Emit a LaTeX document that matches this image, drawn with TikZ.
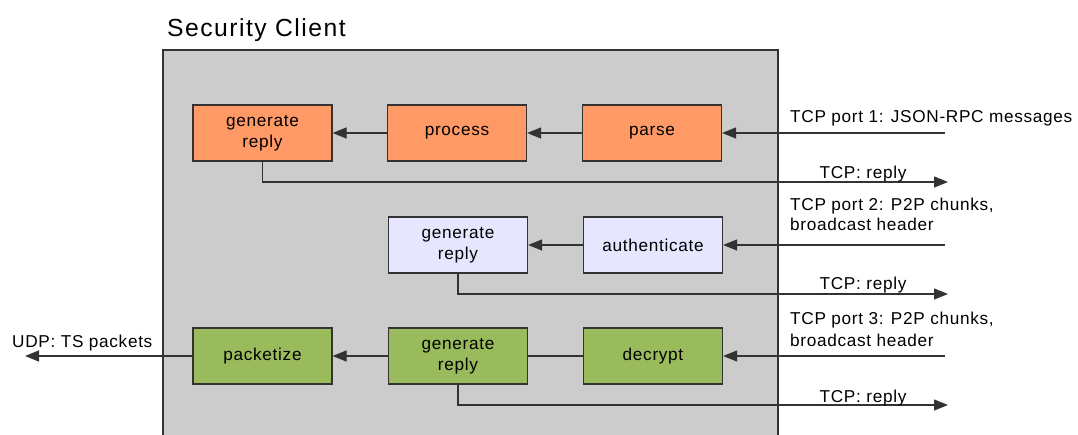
\documentclass[tikz,border=0pt]{standalone}
\usepackage{fontspec}
\setmainfont{Liberation Sans}[LetterSpace=4]
\newfontfamily\titlefont{Liberation Sans}[LetterSpace=6]
\usetikzlibrary{arrows.meta}
\definecolor{panel}{HTML}{CCCCCC}
\definecolor{edge}{HTML}{333333}
\definecolor{orangefill}{HTML}{FF9966}
\definecolor{lavfill}{HTML}{E6E6FF}
\definecolor{greenfill}{HTML}{99BB5C}
\tikzset{
  stage/.style={draw=edge, line width=1.2pt, minimum width=139pt, minimum height=56pt,
    align=center, font=\fontsize{17.2}{21}\selectfont, inner sep=2pt},
  flow/.style={draw=edge, line width=1.2pt, -{Triangle[length=14pt,width=11pt]}},
  plain/.style={draw=edge, line width=1.2pt},
  lbl/.style={font=\fontsize{17.2}{20}\selectfont, inner sep=0pt, align=left},
}
\begin{document}
\begin{tikzpicture}[x=1pt,y=-1pt]
\useasboundingbox (0,0) rectangle (1078,435);

% client container, open at the bottom
\fill[panel] (163,50) rectangle (778,435);
\draw[plain] (163,435) -- (163,50) -- (778,50) -- (778,435);
\node[anchor=base west, inner sep=0pt, font=\titlefont\fontsize{24.7}{28}\selectfont] (title) at (167,37) {Security Client};

% processing stages
\node[stage, fill=orangefill] (gr1) at (262.5,133) {generate\\reply};
\node[stage, fill=orangefill] (proc) at (457,133) {process};
\node[stage, fill=orangefill] (parse) at (652,133) {parse};

\node[stage, fill=lavfill] (gr2) at (458,245) {generate\\reply};
\node[stage, fill=lavfill] (auth) at (653,245) {authenticate};

\node[stage, fill=greenfill] (pack) at (262.5,356) {packetize};
\node[stage, fill=greenfill] (gr3) at (458,356) {generate\\reply};
\node[stage, fill=greenfill] (decr) at (653,356) {decrypt};

% external endpoints
\coordinate (in1) at (945,133);
\coordinate (in2) at (945,245);
\coordinate (in3) at (945,356);
\coordinate (out1) at (948,182);
\coordinate (out2) at (948,294);
\coordinate (out3) at (948,405);
\coordinate (udp) at (25,356);

% row 1
\draw[flow] (in1) -- (parse);
\draw[flow] (parse) -- (proc);
\draw[flow] (proc) -- (gr1);
\draw[flow] (gr1.south) |- (out1);

% row 2
\draw[flow] (in2) -- (auth);
\draw[flow] (auth) -- (gr2);
\draw[flow] (gr2.south) |- (out2);

% row 3
\draw[flow] (in3) -- (decr);
\draw[plain] (decr) -- (gr3);
\draw[flow] (gr3) -- (pack);
\draw[flow] (gr3.south) |- (out3);
\draw[flow] (pack) -- (udp);

% link labels
\node[lbl, anchor=base west] (l1) at (790,123) {TCP port 1: JSON-RPC messages};
\node[lbl, anchor=base] (r1) at (863,179) {TCP: reply};
\node[lbl, anchor=base west] (l2a) at (790,211) {TCP port 2: P2P chunks,};
\node[lbl, anchor=base west] (l2b) at (790,231) {broadcast header};
\node[lbl, anchor=base] (r2) at (863,290) {TCP: reply};
\node[lbl, anchor=base west] (l3a) at (790,324) {TCP port 3: P2P chunks,};
\node[lbl, anchor=base west] (l3b) at (790,346) {broadcast header};
\node[lbl, anchor=base] (r3) at (863,402) {TCP: reply};
\node[lbl, anchor=base west] (u) at (12,347) {UDP: TS packets};
\end{tikzpicture}
\end{document}
